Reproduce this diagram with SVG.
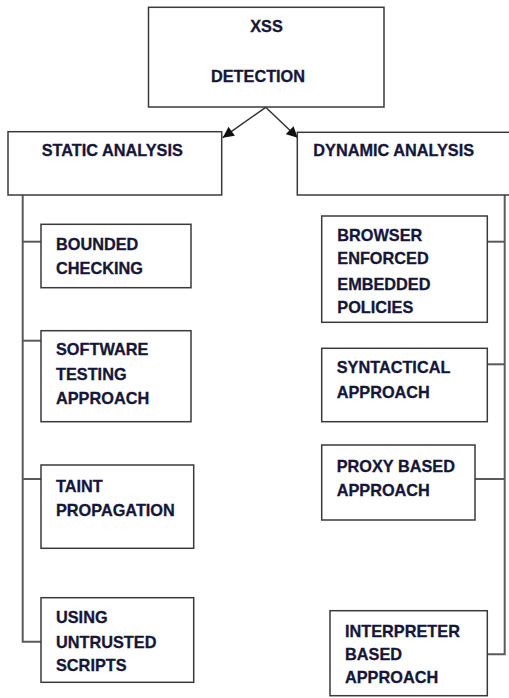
<svg xmlns="http://www.w3.org/2000/svg" width="509" height="698" viewBox="0 0 509 698">
<defs>
<style>
.box{fill:#fff;stroke:#3a3a3a;stroke-width:1.5}
.t{font-family:"Liberation Sans",Arial,sans-serif;font-weight:bold;font-size:16.3px;fill:#161638;stroke:#161638;stroke-width:0.3}
.c{fill:none;stroke:#5a5a5a;stroke-width:2}
.a{fill:none;stroke:#333;stroke-width:1.5}
</style>
<marker id="ah" viewBox="0 0 10 10" refX="10" refY="5" markerWidth="12" markerHeight="11" markerUnits="userSpaceOnUse" orient="auto"><path d="M0,0 L10,5 L0,10 z" fill="#111"/></marker>
</defs>
<g id="connectors">
<line class="a" x1="265.7" y1="107.3" x2="222.7" y2="137.7" marker-end="url(#ah)"/>
<line class="a" x1="265.7" y1="107.3" x2="297.7" y2="137.7" marker-end="url(#ah)"/>
<polyline class="c" points="22.7,195 22.7,641.7 41,641.7"/>
<line class="c" x1="22.7" y1="241.7" x2="41" y2="241.7"/>
<line class="c" x1="22.7" y1="340.7" x2="41" y2="340.7"/>
<line class="c" x1="22.7" y1="479" x2="41" y2="479"/>
<polyline class="c" points="504.7,195 504.7,654.3 487.3,654.3"/>
<line class="c" x1="504.7" y1="241.7" x2="487.3" y2="241.7"/>
<line class="c" x1="504.7" y1="364.3" x2="487.3" y2="364.3"/>
<line class="c" x1="504.7" y1="479" x2="475" y2="479"/>
</g>
<g id="xss">
<rect class="box" x="148.5" y="7.3" width="235.5" height="99.7"/>
<text class="t" x="266.5" y="32" text-anchor="middle">XSS</text>
<text class="t" x="258" y="82" text-anchor="middle">DETECTION</text>
</g>
<g id="static">
<rect class="box" x="8" y="131.7" width="213.7" height="63.3"/>
<text class="t" x="41.7" y="155.7">STATIC ANALYSIS</text>
</g>
<g id="dynamic">
<rect class="box" x="297.3" y="132.3" width="215" height="62.7"/>
<text class="t" x="313.3" y="155.7">DYNAMIC ANALYSIS</text>
</g>
<g id="bounded">
<rect class="box" x="41" y="224.3" width="150" height="63.4"/>
<text class="t" x="56" y="250">BOUNDED</text>
<text class="t" x="56" y="274.3">CHECKING</text>
</g>
<g id="software">
<rect class="box" x="41" y="330.7" width="150" height="91"/>
<text class="t" x="56" y="355">SOFTWARE</text>
<text class="t" x="56" y="380">TESTING</text>
<text class="t" x="56" y="404.3">APPROACH</text>
</g>
<g id="taint">
<rect class="box" x="41" y="465" width="152.7" height="83.3"/>
<text class="t" x="56" y="491.7">TAINT</text>
<text class="t" x="56" y="516">PROPAGATION</text>
</g>
<g id="using">
<rect class="box" x="41" y="597.7" width="152.7" height="84.6"/>
<text class="t" x="56" y="623.3">USING</text>
<text class="t" x="56" y="648.3">UNTRUSTED</text>
<text class="t" x="56" y="671">SCRIPTS</text>
</g>
<g id="browser">
<rect class="box" x="321.7" y="216" width="165.6" height="106.3"/>
<text class="t" x="337.3" y="240.7">BROWSER</text>
<text class="t" x="337.3" y="264.3">ENFORCED</text>
<text class="t" x="337.3" y="290">EMBEDDED</text>
<text class="t" x="337.3" y="312.7">POLICIES</text>
</g>
<g id="syntactical">
<rect class="box" x="321.7" y="348.3" width="165.6" height="73.4"/>
<text class="t" x="336.7" y="373.3">SYNTACTICAL</text>
<text class="t" x="336.7" y="397.7">APPROACH</text>
</g>
<g id="proxy">
<rect class="box" x="321.7" y="445" width="153.3" height="75"/>
<text class="t" x="336.7" y="471.7">PROXY BASED</text>
<text class="t" x="336.7" y="495.7">APPROACH</text>
</g>
<g id="interpreter">
<rect class="box" x="330" y="610.7" width="157.3" height="85"/>
<text class="t" x="345" y="637.3">INTERPRETER</text>
<text class="t" x="345" y="660">BASED</text>
<text class="t" x="345" y="683.3">APPROACH</text>
</g>
</svg>
